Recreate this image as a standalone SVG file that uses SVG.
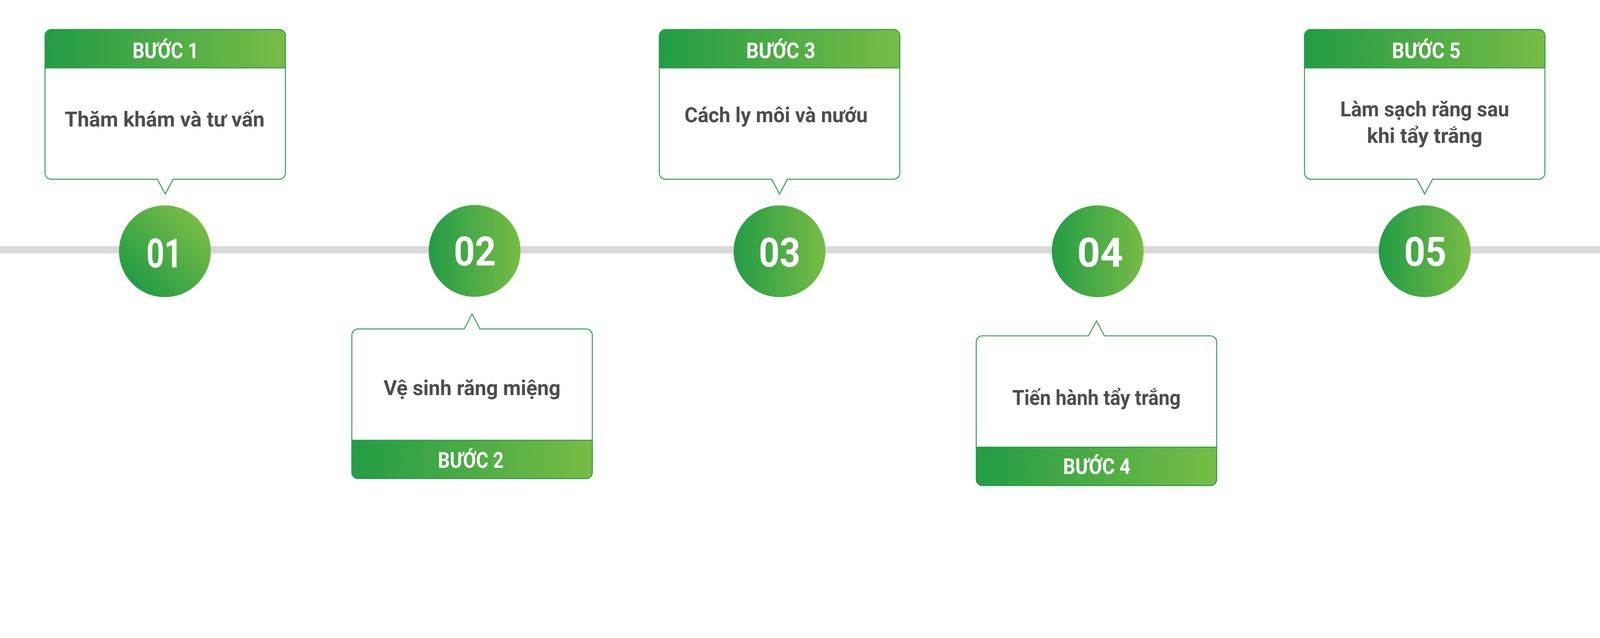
<svg xmlns="http://www.w3.org/2000/svg" xmlns:xlink="http://www.w3.org/1999/xlink" width="5084" height="1634" viewBox="0 0 5084 1634" preserveAspectRatio="xMinYMin meet" style="max-width:100%;height:auto">
<style>
.outline{fill:#ffffff;stroke:#2a9d48;stroke-width:3;stroke-linejoin:miter}
.band{fill:url(#gH)}
.edge{fill:none;stroke:#2a9d48;stroke-width:3}
.step{font-family:Roboto,"Noto Sans","Liberation Sans",sans-serif;font-weight:700;font-size:70px;fill:#ffffff;text-anchor:middle}
.body{font-family:Roboto,"Noto Sans","Liberation Sans",sans-serif;font-weight:700;font-size:66px;fill:#4d4d4f;text-anchor:middle}
.num{font-family:Roboto,"Noto Sans","Liberation Sans",sans-serif;font-weight:700;font-size:129px;fill:#ffffff;text-anchor:middle}
</style>
<defs>
<linearGradient id="gH" x1="0" y1="0" x2="1" y2="0">
<stop offset="0" stop-color="#239c46"/>
<stop offset="1" stop-color="#78bc45"/>
</linearGradient>
<linearGradient id="gD" x1="0.15" y1="0.85" x2="0.85" y2="0.15">
<stop offset="0" stop-color="#239c46"/>
<stop offset="1" stop-color="#78bc45"/>
</linearGradient>
<path id="topOutline" d="M -362,0 H 362 A 20 20 0 0 1 382,20 V 456 A 20 20 0 0 1 362,476 H 25 L 0,523 L -25,476 H -362 A 20 20 0 0 1 -382,456 V 20 A 20 20 0 0 1 -362,0 Z"/>
<path id="topBand" d="M -382,122 V 20 A 20 20 0 0 1 -362,0 H 362 A 20 20 0 0 1 382,20 V 122 Z"/>
<path id="botOutline" d="M -362,0 H -25 L 0,-48 L 25,0 H 362 A 20 20 0 0 1 382,20 V 456 A 20 20 0 0 1 362,476 H -362 A 20 20 0 0 1 -382,456 V 20 A 20 20 0 0 1 -362,0 Z"/>
<path id="botBand" d="M -382,354 H 382 V 456 A 20 20 0 0 1 362,476 H -362 A 20 20 0 0 1 -382,456 Z"/>
</defs>
<rect x="0" y="0" width="5084" height="1634" fill="#ffffff"/>
<g id="connectors">
<rect x="0" y="783" width="5084" height="23" fill="#dad9da"/>
</g>
<g id="step1">
<g transform="translate(525,94)">
<use xlink:href="#topOutline" href="#topOutline" class="outline"/>
<use xlink:href="#topBand" href="#topBand" class="band"/>
<use xlink:href="#topBand" href="#topBand" class="edge"/>
</g>
<text class="step" x="526" y="185" textLength="210" lengthAdjust="spacingAndGlyphs">BƯỚC 1</text>
<text class="body" x="523" y="402" textLength="635" lengthAdjust="spacingAndGlyphs">Thăm khám và tư vấn</text>
<circle cx="524" cy="799" r="146" fill="url(#gD)"/>
<text class="num" x="522" y="850" textLength="114" lengthAdjust="spacingAndGlyphs">01</text>
</g>
<g id="step2">
<g transform="translate(1500,1046)">
<use xlink:href="#botOutline" href="#botOutline" class="outline"/>
<use xlink:href="#botBand" href="#botBand" class="band"/>
<use xlink:href="#botBand" href="#botBand" class="edge"/>
</g>
<text class="body" x="1500" y="1257" textLength="562" lengthAdjust="spacingAndGlyphs">Vệ sinh răng miệng</text>
<text class="step" x="1496" y="1487" textLength="209" lengthAdjust="spacingAndGlyphs">BƯỚC 2</text>
<circle cx="1508" cy="798" r="146" fill="url(#gH)"/>
<text class="num" x="1509" y="844" textLength="134" lengthAdjust="spacingAndGlyphs">02</text>
</g>
<g id="step3">
<g transform="translate(2477,94)">
<use xlink:href="#topOutline" href="#topOutline" class="outline"/>
<use xlink:href="#topBand" href="#topBand" class="band"/>
<use xlink:href="#topBand" href="#topBand" class="edge"/>
</g>
<text class="step" x="2481" y="185" textLength="220" lengthAdjust="spacingAndGlyphs">BƯỚC 3</text>
<text class="body" x="2466" y="389" textLength="582" lengthAdjust="spacingAndGlyphs">Cách ly môi và nướu</text>
<circle cx="2477" cy="799" r="146" fill="url(#gH)"/>
<text class="num" x="2477" y="848" textLength="132" lengthAdjust="spacingAndGlyphs">03</text>
</g>
<g id="step4">
<g transform="translate(3484,1068)">
<use xlink:href="#botOutline" href="#botOutline" class="outline"/>
<use xlink:href="#botBand" href="#botBand" class="band"/>
<use xlink:href="#botBand" href="#botBand" class="edge"/>
</g>
<text class="body" x="3484" y="1287" textLength="535" lengthAdjust="spacingAndGlyphs">Tiến hành tẩy trắng</text>
<text class="step" x="3485" y="1507" textLength="214" lengthAdjust="spacingAndGlyphs">BƯỚC 4</text>
<circle cx="3488" cy="799" r="146" fill="url(#gH)"/>
<text class="num" x="3496" y="848" textLength="146" lengthAdjust="spacingAndGlyphs">04</text>
</g>
<g id="step5">
<g transform="translate(4527,94)">
<use xlink:href="#topOutline" href="#topOutline" class="outline"/>
<use xlink:href="#topBand" href="#topBand" class="band"/>
<use xlink:href="#topBand" href="#topBand" class="edge"/>
</g>
<text class="step" x="4532" y="185" textLength="218" lengthAdjust="spacingAndGlyphs">BƯỚC 5</text>
<text class="body" x="4527" y="370" textLength="537" lengthAdjust="spacingAndGlyphs">Làm sạch răng sau</text>
<text class="body" x="4527" y="454" textLength="367" lengthAdjust="spacingAndGlyphs">khi tẩy trắng</text>
<circle cx="4527" cy="799" r="146" fill="url(#gH)"/>
<text class="num" x="4529" y="845" textLength="135" lengthAdjust="spacingAndGlyphs">05</text>
</g>
</svg>
